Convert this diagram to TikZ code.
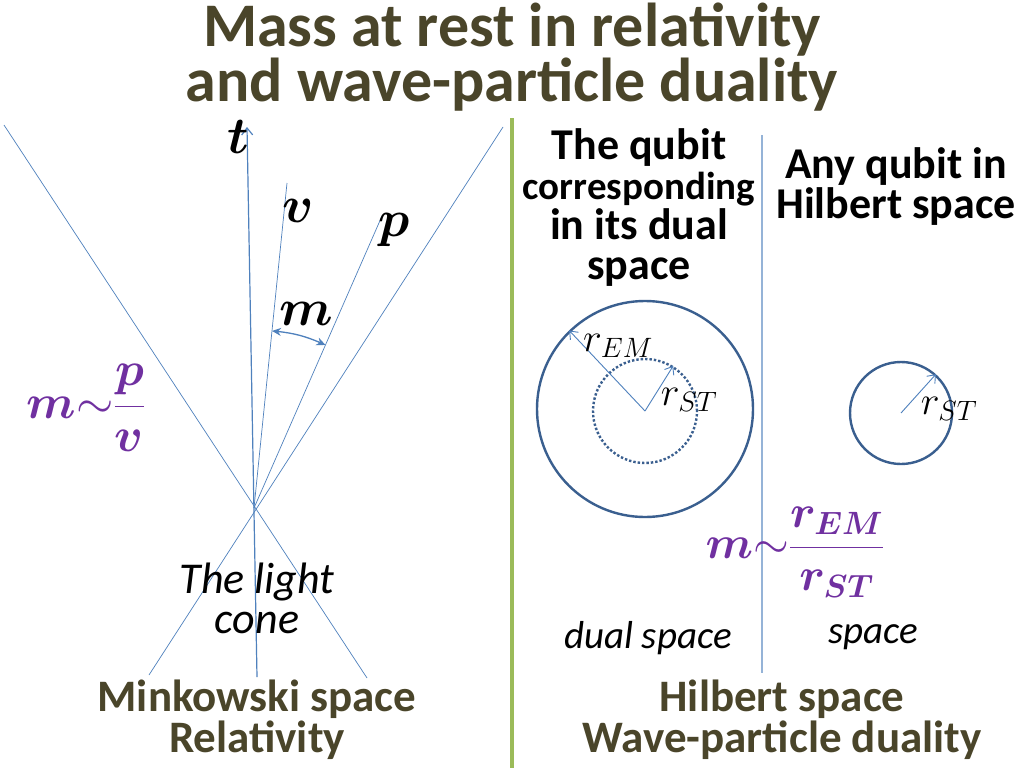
\RequirePackage{fix-cm}
\documentclass[tikz,border=0pt]{standalone}
\usepackage{amsmath,bm}
\usepackage{fontspec}
\setmainfont{Carlito}
\usepackage{tikz}
\usetikzlibrary{calc}
\usetikzlibrary{arrows,arrows.meta}
\usetikzlibrary{positioning}

\definecolor{olivetext}{HTML}{4A452A}
\definecolor{axisblue}{HTML}{4F81BD}
\definecolor{ringblue}{HTML}{3A5F8F}
\definecolor{massviolet}{HTML}{7030A0}
\definecolor{barblue}{HTML}{95B3D7}
\definecolor{sidegreen}{HTML}{9BBB59}

\begin{document}
\begin{tikzpicture}[x=1pt,y=-1pt,
  ray/.style={draw=axisblue, line width=0.7pt},
  ring/.style={circle, draw=ringblue, line width=2.4pt, inner sep=0pt},
  radiusarrow/.style={draw=axisblue, line width=0.9pt, -{Straight Barb[length=7pt,width=11pt]}},
  heading/.style={text=olivetext, font=\bfseries\fontsize{45}{41}\selectfont, align=center},
  qubittext/.style={font=\bfseries\fontsize{44}{40}\selectfont, align=center},
  caption/.style={font=\itshape\fontsize{40}{40}\selectfont, align=center},
  symbol/.style={font=\fontsize{52}{52}\selectfont, inner sep=0pt},
  radiuslabel/.style={font=\fontsize{40}{40}\selectfont, inner sep=0pt},
  massformula/.style={text=massviolet, font=\fontsize{48}{48}\selectfont, inner sep=0pt}]

  \useasboundingbox (0,0) rectangle (1024,768);
  \fill[white] (0,0) rectangle (1024,768);

  %% title
  \node[heading, font=\bfseries\fontsize{62}{52}\selectfont] (title) at (512,57)
    {Mass at rest in relativity\\and wave-particle duality};

  %% separator
  \draw[sidegreen, line width=4pt] (512,118) -- (512,768);

  %% Minkowski side: light cone
  \coordinate (apex) at (254,508);
  \coordinate (coneNW) at (4,125);
  \coordinate (coneSE) at (367,678);
  \coordinate (coneNE) at (503,127);
  \coordinate (coneSW) at (149,675);
  \coordinate (tfoot) at (257,677);
  \coordinate (ttop) at (247,127);
  \coordinate (vtop) at (287,183);
  \coordinate (ptop) at (382,216);
  \draw[ray] (coneNW) -- (coneSE);
  \draw[ray] (coneNE) -- (coneSW);
  \draw[radiusarrow, line width=1.2pt] (tfoot) -- (ttop);
  \draw[ray] (apex) -- (vtop);
  \draw[ray] (apex) -- (ptop);
  \coordinate (arcv) at ($(apex)!178pt!(vtop)$);
  \coordinate (arcp) at ($(apex)!178pt!(ptop)$);
  \draw[ray, line width=1.3pt, {Stealth[length=9pt,width=8pt]}-{Stealth[length=9pt,width=8pt]}]
    (arcv) to[bend left=9] (arcp);

  \node[symbol] (tlabel) at (238,137) {$\bm{t}$};
  \node[symbol] (vlabel) at (298,211) {$\bm{v}$};
  \node[symbol] (plabel) at (394,230) {$\bm{p}$};
  \node[symbol] (mlabel) at (306,314) {$\bm{m}$};
  \node[massformula] (masspv) at (86,408) {$\bm{m}{\sim}\dfrac{\bm{p}}{\bm{v}}$};

  \node[caption, font=\itshape\fontsize{44}{40}\selectfont] (conetext) at (257,598) {The light\\cone};
  \node[heading] (minkowski) at (257,720) {Minkowski space\\Relativity};

  %% Hilbert side
  \draw[barblue, line width=1.2pt] (762,135) -- (762,673);

  \node[qubittext] (dualhead) at (639,208)
    {The qubit\\{\fontsize{39}{40}\selectfont corresponding}\\in its dual\\space};
  \node[qubittext] (anyhead) at (896,187) {Any qubit in\\Hilbert space};

  \node[ring, minimum size=216pt] (emring) at (645,409) {};
  \node[ring, dotted, minimum size=104pt] (stcore) at (645,411) {};
  \draw[radiusarrow] (stcore.center) -- (emring.134);
  \draw[radiusarrow] (stcore.center) -- (stcore.58);
  \node[radiuslabel] (remlabel) at (618,346) {$r_{EM}$};
  \node[radiuslabel] (rstlabel) at (689,400) {$r_{ST}$};

  \node[ring, minimum size=102pt] (stonly) at (901,413) {};
  \draw[radiusarrow] (stonly.center) -- (stonly.48);
  \node[radiuslabel] (rstsmall) at (949,409) {$r_{ST}$};

  \node[massformula, font=\fontsize{46}{46}\selectfont] (massrr) at (795,552)
    {$\bm{m}{\sim}\dfrac{\bm{r_{EM}}}{\bm{r_{ST}}}$};

  \node[caption, font=\itshape\fontsize{39}{40}\selectfont] (dualspace) at (648,638) {dual space};
  \node[caption, font=\itshape\fontsize{39}{40}\selectfont] (plainspace) at (873,637) {space};
  \node[heading] (hilbert) at (782,720) {Hilbert space\\Wave-particle duality};
\end{tikzpicture}
\end{document}
